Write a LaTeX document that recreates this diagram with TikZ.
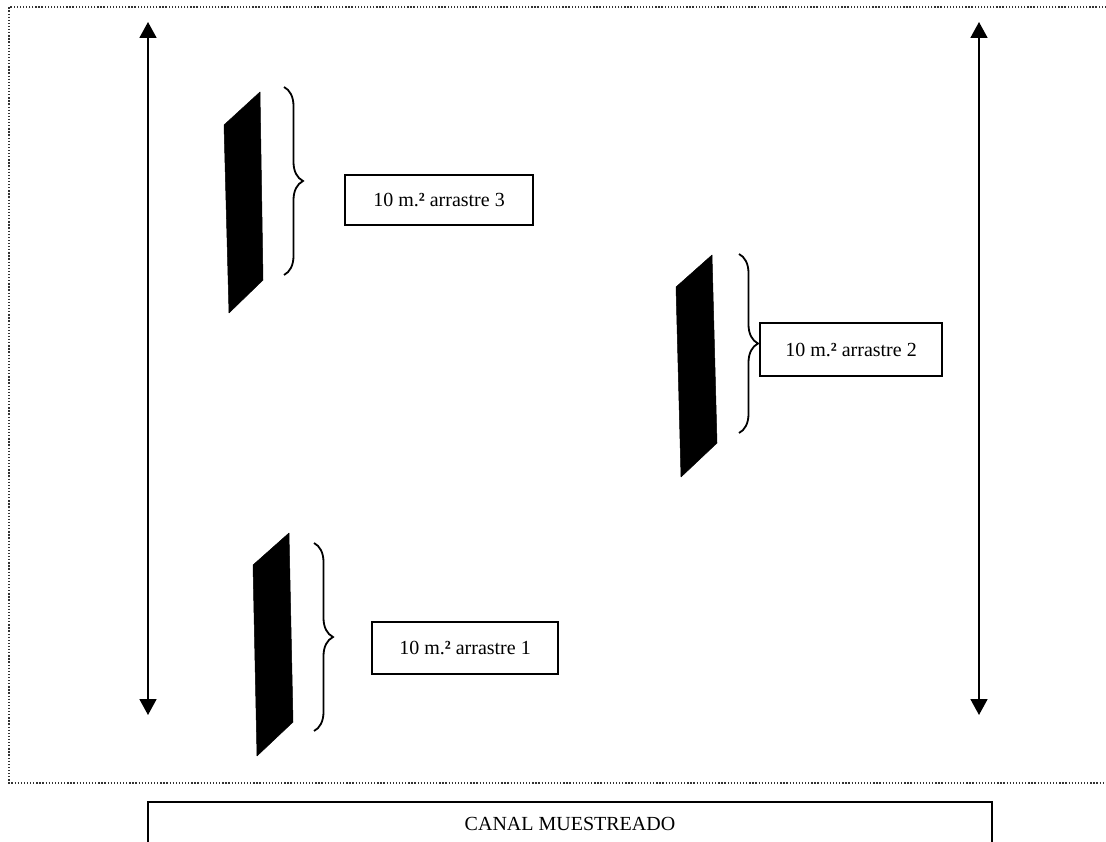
\documentclass[tikz,border=0pt]{standalone}
\usepackage{fontspec}
\setmainfont{Liberation Serif}
\usetikzlibrary{arrows.meta,decorations.pathreplacing}
\tikzset{
  label box/.style={draw, line width=1.5pt, inner sep=0pt, font=\fontsize{20}{24}\selectfont},
  slab/.style={fill=black, draw=black, line width=0.5pt, line join=round},
  brace line/.style={decorate, decoration={brace, amplitude=19pt}, line width=1.8pt},
  long arrow/.style={line width=1.8pt, {Triangle[width=17pt,length=16pt]}-{Triangle[width=17pt,length=16pt]}},
  frame/.style={line width=1.3pt, dash pattern=on 1.3pt off 1.8pt, black!80},
}
\begin{document}
\begin{tikzpicture}[x=1pt,y=-1pt]
\useasboundingbox (0,0) rectangle (1106,842);
% dotted frame
\coordinate (f1) at (1106,7);
\coordinate (f2) at (9,7);
\coordinate (f3) at (9,783);
\coordinate (f4) at (1106,783);
\draw[frame] (f1) -- (f2) -- (f3) -- (f4);
% long arrows
\coordinate (la1) at (148,22);
\coordinate (la2) at (148,715);
\coordinate (ra1) at (979,22);
\coordinate (ra2) at (979,715);
\draw[long arrow] (la1) -- (la2);
\draw[long arrow] (ra1) -- (ra2);
% slab 3
\coordinate (s3a) at (260,92);
\coordinate (s3b) at (224,125);
\coordinate (s3c) at (229,313);
\coordinate (s3d) at (263,280);
\fill[slab] (s3a) -- (s3b) -- (s3c) -- (s3d) -- cycle;
% slab 2
\coordinate (s2a) at (712,255);
\coordinate (s2b) at (676,287);
\coordinate (s2c) at (681,477);
\coordinate (s2d) at (717,443);
\fill[slab] (s2a) -- (s2b) -- (s2c) -- (s2d) -- cycle;
% slab 1
\coordinate (s1a) at (289,533);
\coordinate (s1b) at (253,565);
\coordinate (s1c) at (257,756);
\coordinate (s1d) at (293,722);
\fill[slab] (s1a) -- (s1b) -- (s1c) -- (s1d) -- cycle;
% braces
\coordinate (b3t) at (284,87);
\coordinate (b3b) at (284,275);
\draw[brace line] (b3t) -- (b3b);
\coordinate (b2t) at (739,254);
\coordinate (b2b) at (739,433);
\draw[brace line] (b2t) -- (b2b);
\coordinate (b1t) at (314,543);
\coordinate (b1b) at (314,731);
\draw[brace line] (b1t) -- (b1b);
% label boxes
\node[label box, minimum width=188pt, minimum height=50pt] (box3) at (439,200) {10 m.\textbf{²} arrastre 3};
\node[label box, minimum width=182pt, minimum height=53pt] (box2) at (851,349.5) {10 m.\textbf{²} arrastre 2};
\node[label box, minimum width=186pt, minimum height=52pt] (box1) at (465,648) {10 m.\textbf{²} arrastre 1};
% bottom box
\coordinate (c1) at (148,842);
\coordinate (c2) at (148,802);
\coordinate (c3) at (992,802);
\coordinate (c4) at (992,842);
\draw[line width=1.5pt] (c1) -- (c2) -- (c3) -- (c4);
\node[font=\fontsize{20}{24}\selectfont, inner sep=0pt] (canal) at (570,824) {CANAL MUESTREADO};
\end{tikzpicture}
\end{document}
